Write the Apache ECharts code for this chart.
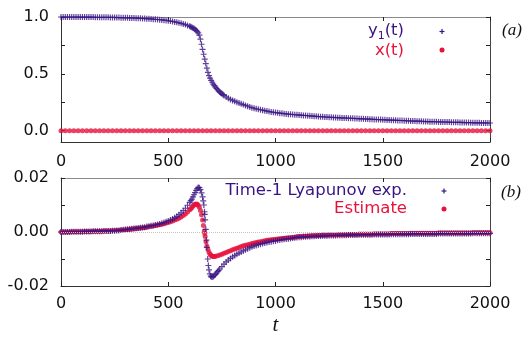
<!DOCTYPE html>
<html>
<head>
<meta charset="utf-8">
<script src="https://cdn.jsdelivr.net/npm/echarts@6.0.0/dist/echarts.min.js"></script>
<style>
  html, body { margin: 0; padding: 0; background: #fff; }
  #container { width: 525px; height: 337px; }
</style>
</head>
<body>
<div id="container"></div>
<script>
const tGrid = []
for (let t = 0; t <= 2000; t += 10) tGrid.push(t)

// panel (a): y1(t)
const y1Values = [
  1.000, 1.000, 1.000, 1.000, 1.000, 1.000, 1.000, 1.000, 0.999, 0.999,
  0.999, 0.999, 0.999, 0.999, 0.999, 0.999, 0.998, 0.998, 0.998, 0.998,
  0.997, 0.997, 0.997, 0.996, 0.996, 0.996, 0.995, 0.995, 0.994, 0.994,
  0.993, 0.993, 0.992, 0.991, 0.991, 0.990, 0.989, 0.988, 0.987, 0.986,
  0.985, 0.984, 0.983, 0.981, 0.980, 0.978, 0.976, 0.974, 0.972, 0.970,
  0.967, 0.964, 0.961, 0.957, 0.953, 0.949, 0.944, 0.939, 0.933, 0.926,
  0.918, 0.909, 0.898, 0.883, 0.860, 0.805, 0.715, 0.630, 0.550, 0.484,
  0.443, 0.410, 0.383, 0.360, 0.341, 0.324, 0.310, 0.297, 0.286, 0.275,
  0.266, 0.258, 0.250, 0.243, 0.236, 0.229, 0.222, 0.215, 0.208, 0.202,
  0.197, 0.192, 0.188, 0.184, 0.180, 0.176, 0.172, 0.168, 0.165, 0.162,
  0.159, 0.157, 0.154, 0.152, 0.149, 0.147, 0.145, 0.144, 0.142, 0.140,
  0.139, 0.137, 0.136, 0.134, 0.133, 0.131, 0.130, 0.128, 0.127, 0.126,
  0.124, 0.123, 0.122, 0.120, 0.119, 0.118, 0.117, 0.116, 0.115, 0.114,
  0.113, 0.112, 0.112, 0.111, 0.110, 0.109, 0.108, 0.107, 0.106, 0.105,
  0.104, 0.104, 0.103, 0.102, 0.101, 0.100, 0.099, 0.098, 0.097, 0.097,
  0.096, 0.095, 0.094, 0.093, 0.092, 0.092, 0.091, 0.090, 0.089, 0.089,
  0.088, 0.087, 0.086, 0.085, 0.084, 0.084, 0.083, 0.083, 0.082, 0.081,
  0.080, 0.080, 0.079, 0.079, 0.078, 0.078, 0.077, 0.077, 0.076, 0.076,
  0.075, 0.075, 0.074, 0.074, 0.073, 0.073, 0.072, 0.072, 0.071, 0.071,
  0.071, 0.070, 0.070, 0.069, 0.069, 0.069, 0.068, 0.068, 0.068, 0.067,
  0.067
]
// extra samples in the steep drop, [t, value]
const y1Steep = [
  [605, 0.914], [615, 0.904], [625, 0.891], [635, 0.873], [645, 0.840], [655, 0.760],
  [665, 0.672], [675, 0.590], [685, 0.513], [695, 0.462], [705, 0.426], [715, 0.396],
  [725, 0.371], [735, 0.350], [745, 0.332], [755, 0.317]
]

// panel (a): x(t) stays at zero, sampled every 20
const xTimes = tGrid.filter(t => t % 20 === 0)
const xLevel = 0

// panel (b): time-1 Lyapunov exponent
const lyapValues = [
  0.0000, 0.0000, 0.0000, 0.0000, 0.0000, 0.0001, 0.0001, 0.0001, 0.0001, 0.0001,
  0.0001, 0.0002, 0.0002, 0.0002, 0.0002, 0.0003, 0.0003, 0.0003, 0.0003, 0.0003,
  0.0004, 0.0004, 0.0004, 0.0004, 0.0005, 0.0005, 0.0006, 0.0006, 0.0007, 0.0008,
  0.0009, 0.0010, 0.0011, 0.0012, 0.0013, 0.0014, 0.0015, 0.0016, 0.0017, 0.0018,
  0.0020, 0.0021, 0.0023, 0.0024, 0.0026, 0.0028, 0.0030, 0.0032, 0.0035, 0.0038,
  0.0041, 0.0044, 0.0048, 0.0053, 0.0058, 0.0064, 0.0071, 0.0079, 0.0088, 0.0099,
  0.0110, 0.0122, 0.0138, 0.0154, 0.0165, 0.0157, 0.0130, 0.0065, -0.0057, -0.0140,
  -0.0166, -0.0165, -0.0157, -0.0147, -0.0137, -0.0128, -0.0119, -0.0111, -0.0104, -0.0098,
  -0.0092, -0.0087, -0.0082, -0.0078, -0.0074, -0.0070, -0.0066, -0.0062, -0.0058, -0.0055,
  -0.0052, -0.0050, -0.0047, -0.0045, -0.0043, -0.0041, -0.0039, -0.0037, -0.0036, -0.0034,
  -0.0033, -0.0031, -0.0030, -0.0028, -0.0027, -0.0026, -0.0025, -0.0024, -0.0022, -0.0021,
  -0.0020, -0.0019, -0.0019, -0.0018, -0.0018, -0.0017, -0.0017, -0.0016, -0.0016, -0.0015,
  -0.0015, -0.0015, -0.0014, -0.0014, -0.0014, -0.0013, -0.0013, -0.0013, -0.0013, -0.0012,
  -0.0012, -0.0012, -0.0012, -0.0012, -0.0011, -0.0011, -0.0011, -0.0011, -0.0011, -0.0010,
  -0.0010, -0.0010, -0.0010, -0.0010, -0.0010, -0.0010, -0.0009, -0.0009, -0.0009, -0.0009,
  -0.0009, -0.0009, -0.0009, -0.0009, -0.0008, -0.0008, -0.0008, -0.0008, -0.0008, -0.0008,
  -0.0008, -0.0008, -0.0008, -0.0007, -0.0007, -0.0007, -0.0007, -0.0007, -0.0007, -0.0007,
  -0.0007, -0.0007, -0.0007, -0.0007, -0.0007, -0.0007, -0.0006, -0.0006, -0.0006, -0.0006,
  -0.0006, -0.0006, -0.0006, -0.0006, -0.0006, -0.0006, -0.0006, -0.0006, -0.0006, -0.0006,
  -0.0006, -0.0006, -0.0005, -0.0005, -0.0005, -0.0005, -0.0005, -0.0005, -0.0005, -0.0005,
  -0.0005
]
const lyapSteep = [
  [605, 0.0116], [615, 0.0130], [625, 0.0146], [635, 0.0161], [645, 0.0164], [655, 0.0145],
  [663, 0.0115], [666, 0.0100], [669, 0.0075], [672, 0.0045], [675, 0.0010], [678, -0.0030],
  [684, -0.0100], [687, -0.0124], [694, -0.0155], [698, -0.0163], [705, -0.0167], [715, -0.0161],
  [725, -0.0152], [735, -0.0142]
]

// panel (b): estimate
const estValues = [
  0.0000, 0.0000, 0.0000, 0.0000, 0.0000, 0.0001, 0.0001, 0.0001, 0.0001, 0.0001,
  0.0001, 0.0002, 0.0002, 0.0002, 0.0002, 0.0003, 0.0003, 0.0003, 0.0003, 0.0003,
  0.0004, 0.0004, 0.0004, 0.0004, 0.0005, 0.0005, 0.0006, 0.0006, 0.0007, 0.0007,
  0.0008, 0.0009, 0.0010, 0.0011, 0.0012, 0.0013, 0.0014, 0.0015, 0.0016, 0.0017,
  0.0018, 0.0020, 0.0021, 0.0022, 0.0024, 0.0026, 0.0027, 0.0029, 0.0031, 0.0033,
  0.0035, 0.0038, 0.0041, 0.0044, 0.0047, 0.0051, 0.0056, 0.0061, 0.0067, 0.0074,
  0.0082, 0.0091, 0.0100, 0.0104, 0.0099, 0.0080, 0.0044, -0.0006, -0.0052, -0.0075,
  -0.0087, -0.0091, -0.0090, -0.0088, -0.0085, -0.0082, -0.0079, -0.0076, -0.0072, -0.0069,
  -0.0066, -0.0063, -0.0060, -0.0057, -0.0054, -0.0051, -0.0049, -0.0047, -0.0045, -0.0043,
  -0.0041, -0.0039, -0.0037, -0.0036, -0.0034, -0.0032, -0.0031, -0.0030, -0.0029, -0.0028,
  -0.0027, -0.0026, -0.0025, -0.0024, -0.0023, -0.0022, -0.0021, -0.0021, -0.0020, -0.0019,
  -0.0018, -0.0017, -0.0017, -0.0016, -0.0016, -0.0015, -0.0015, -0.0014, -0.0014, -0.0014,
  -0.0013, -0.0013, -0.0012, -0.0012, -0.0012, -0.0011, -0.0011, -0.0011, -0.0011, -0.0010,
  -0.0010, -0.0010, -0.0010, -0.0010, -0.0009, -0.0009, -0.0009, -0.0009, -0.0009, -0.0008,
  -0.0008, -0.0008, -0.0008, -0.0008, -0.0008, -0.0008, -0.0007, -0.0007, -0.0007, -0.0007,
  -0.0007, -0.0007, -0.0007, -0.0007, -0.0006, -0.0006, -0.0006, -0.0006, -0.0006, -0.0006,
  -0.0006, -0.0006, -0.0006, -0.0005, -0.0005, -0.0005, -0.0005, -0.0005, -0.0005, -0.0005,
  -0.0005, -0.0005, -0.0005, -0.0005, -0.0005, -0.0005, -0.0004, -0.0004, -0.0004, -0.0004,
  -0.0004, -0.0004, -0.0004, -0.0004, -0.0004, -0.0004, -0.0004, -0.0004, -0.0004, -0.0004,
  -0.0004, -0.0004, -0.0003, -0.0003, -0.0003, -0.0003, -0.0003, -0.0003, -0.0003, -0.0003,
  -0.0003
]
const estSteep = [
  [605, 0.0086], [615, 0.0096], [625, 0.0103], [635, 0.0103], [645, 0.0092], [655, 0.0064],
  [664, 0.0024], [668, 0.0004], [672, -0.0017], [676, -0.0036], [685, -0.0065], [695, -0.0082],
  [705, -0.0090], [715, -0.0091]
]

// ticks and labels
const xTicks = [0, 500, 1000, 1500, 2000]
const yTopTicks = [0, 0.25, 0.5, 0.75, 1.0]
const yTopLabels = [0, 0.5, 1.0]
const yBotTicks = [-0.02, -0.01, 0, 0.01, 0.02]
const yBotLabels = [-0.02, 0, 0.02]

const purple = '#381483'
const red = '#e6123c'
const plus = 'path://M4,0H6V4H10V6H6V10H4V6H0V4H4Z'
const font = 'DejaVu Sans'

const pairs = (values) => tGrid.map((t, i) => [t, values[i]])

const myChart = echarts.init(document.getElementById('container'), null, { renderer: 'canvas' })

const bottomX = (gridIndex, margin, extra) => Object.assign({
  type: 'value', gridIndex, min: 0, max: 2000,
  axisLine: { show: true, onZero: false, lineStyle: { color: '#333', width: 1 } },
  axisTick: { show: true, inside: true, length: 4, customValues: xTicks, lineStyle: { color: '#222' } },
  axisLabel: {
    show: true, margin, customValues: xTicks, color: '#111', fontFamily: font, fontSize: 16,
    formatter: v => String(v)
  },
  splitLine: { show: false }
}, extra || {})

const topX = (gridIndex) => ({
  type: 'value', gridIndex, position: 'top', min: 0, max: 2000,
  axisLine: { show: true, onZero: false, lineStyle: { color: '#8a8a8a', width: 1 } },
  axisTick: { show: true, inside: true, length: 4, customValues: xTicks, lineStyle: { color: '#222' } },
  axisLabel: { show: false },
  splitLine: { show: false }
})

const leftY = (gridIndex, min, max, ticks, labels, digits) => ({
  type: 'value', gridIndex, min, max,
  axisLine: { show: true, onZero: false, lineStyle: { color: '#333', width: 1 } },
  axisTick: { show: true, inside: true, length: 4, customValues: ticks, lineStyle: { color: '#222' } },
  axisLabel: {
    show: true, margin: 12, customValues: labels, color: '#111', fontFamily: font, fontSize: 16,
    formatter: v => v.toFixed(digits)
  },
  splitLine: { show: false }
})

const rightY = (gridIndex, min, max, ticks) => ({
  type: 'value', gridIndex, position: 'right', min, max,
  axisLine: { show: true, onZero: false, lineStyle: { color: '#444', width: 1 } },
  axisTick: { show: true, inside: true, length: 4, customValues: ticks, lineStyle: { color: '#222' } },
  axisLabel: { show: false },
  splitLine: { show: false }
})

const legendPlus = (x, y) => ({
  type: 'group', x, y,
  children: [
    { type: 'line', shape: { x1: -2.5, y1: 0, x2: 2.5, y2: 0 }, style: { stroke: purple, lineWidth: 1.2 } },
    { type: 'line', shape: { x1: 0, y1: -2.5, x2: 0, y2: 2.5 }, style: { stroke: purple, lineWidth: 1.2 } }
  ]
})

const legendDot = (x, y) => ({
  type: 'circle', shape: { cx: x, cy: y, r: 2.5 }, style: { fill: red }
})

const legendText = (x, y, text, color, rich) => ({
  type: 'text', x, y,
  style: {
    text, fill: color, font: '16.5px "DejaVu Sans"', align: 'right', verticalAlign: 'middle',
    rich: rich || {}
  }
})

myChart.setOption({
  animation: false,
  backgroundColor: '#fff',
  grid: [
    { left: 61, top: 17, width: 429, height: 125 },
    { left: 61, top: 178, width: 429, height: 110 }
  ],
  xAxis: [
    bottomX(0, 12),
    topX(0),
    bottomX(1, 10, {
      name: 't', nameLocation: 'middle', nameGap: 29,
      nameTextStyle: { fontFamily: 'Liberation Serif', fontStyle: 'italic', fontSize: 21, color: '#111' }
    }),
    topX(1)
  ],
  yAxis: [
    leftY(0, -0.1, 1.0, yTopTicks, yTopLabels, 1),
    rightY(0, -0.1, 1.0, yTopTicks),
    leftY(1, -0.02, 0.02, yBotTicks, yBotLabels, 2),
    rightY(1, -0.02, 0.02, yBotTicks)
  ],
  series: [
    {
      name: 'x(t)', type: 'scatter', xAxisIndex: 0, yAxisIndex: 0,
      symbol: 'circle', symbolSize: 5, itemStyle: { color: red },
      data: xTimes.map(t => [t, xLevel])
    },
    {
      name: 'y1(t)', type: 'scatter', xAxisIndex: 0, yAxisIndex: 0,
      symbol: plus, symbolSize: 6, itemStyle: { color: purple },
      data: pairs(y1Values).concat(y1Steep)
    },
    {
      name: 'zero', type: 'line', xAxisIndex: 2, yAxisIndex: 2, data: [], z: 1,
      markLine: {
        silent: true, symbol: 'none', label: { show: false },
        lineStyle: { type: 'dotted', color: '#c4c4c4', width: 1 },
        data: [{ yAxis: 0 }]
      }
    },
    {
      name: 'Estimate', type: 'scatter', xAxisIndex: 2, yAxisIndex: 2,
      symbol: 'circle', symbolSize: 5, itemStyle: { color: red },
      data: pairs(estValues).concat(estSteep)
    },
    {
      name: 'Time-1 Lyapunov exp.', type: 'scatter', xAxisIndex: 2, yAxisIndex: 2,
      symbol: plus, symbolSize: 6, itemStyle: { color: purple },
      data: pairs(lyapValues).concat(lyapSteep)
    }
  ],
  graphic: [
    legendText(404, 31, 'y{sub|1}(t)', purple, { sub: { fontSize: 11, fill: purple, fontFamily: font, padding: [10, 0, 0, 0] } }),
    legendPlus(442, 31.5),
    legendText(404, 51, 'x(t)', red),
    legendDot(442, 50),
    legendText(407, 191, 'Time-1 Lyapunov exp.', purple),
    legendPlus(444, 191),
    legendText(407, 209, 'Estimate', red),
    legendDot(444, 209),
    { type: 'text', x: 502, y: 31, style: { text: '(a)', fill: '#111', font: 'italic 17px "Liberation Serif"', verticalAlign: 'middle' } },
    { type: 'text', x: 501, y: 193, style: { text: '(b)', fill: '#111', font: 'italic 17px "Liberation Serif"', verticalAlign: 'middle' } }
  ]
})
</script>
</body>
</html>
